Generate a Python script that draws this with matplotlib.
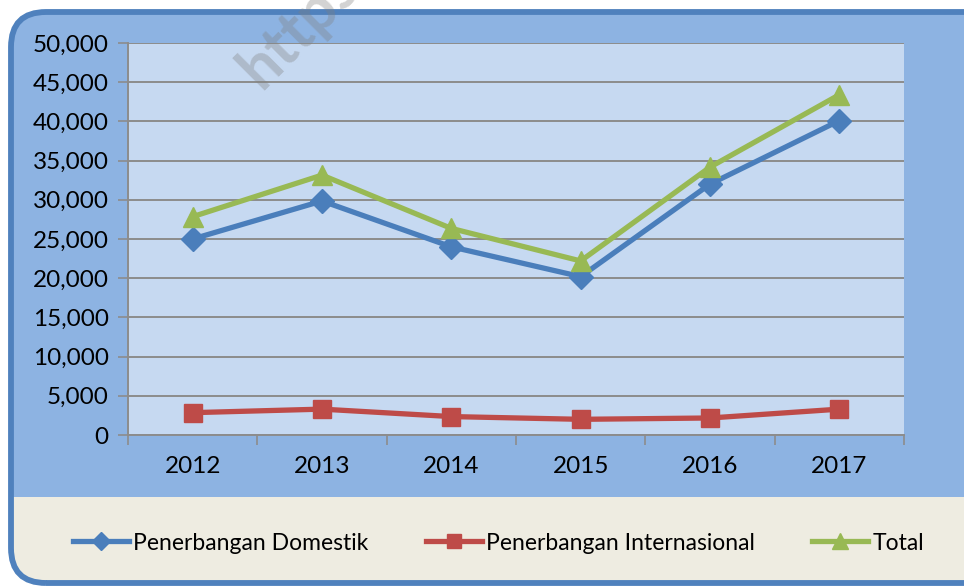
import matplotlib.pyplot as plt
from matplotlib.patches import FancyBboxPatch, Rectangle
from matplotlib.ticker import FuncFormatter, FixedLocator

years = ["2012", "2013", "2014", "2015", "2016", "2017"]
domestik = [25000, 29850, 24000, 20200, 32000, 40100]
internasional = [2850, 3300, 2350, 2000, 2170, 3300]
total = [27850, 33150, 26350, 22200, 34170, 43400]

names = ["Penerbangan Domestik", "Penerbangan Internasional", "Total"]
colors = ["#4A7EBB", "#BE4B48", "#98B954"]
markers = ["D", "s", "^"]
sizes = [12, 13, 15]

plt.rcParams['font.family'] = ['Lato', 'DejaVu Sans']

fig = plt.figure(figsize=(9.64, 5.87), dpi=100)
fig.patch.set_facecolor("white")

# rounded frame, coordinates in inches
tr = fig.dpi_scale_trans
frame = FancyBboxPatch((0.11, 0.04), 9.9, 5.71,
                       boxstyle="round,pad=0,rounding_size=0.35",
                       facecolor="#8DB3E2", edgecolor="none", transform=tr, zorder=0)
fig.patches.append(frame)
beige = Rectangle((0.0, 0.0), 10.0, 5.87 - 4.97, facecolor="#EEECE1",
                  edgecolor="none", transform=tr, zorder=0.5)
fig.patches.append(beige)
beige.set_clip_path(frame)
border = FancyBboxPatch((0.11, 0.04), 9.9, 5.71,
                        boxstyle="round,pad=0,rounding_size=0.35",
                        facecolor="none", edgecolor="#4F81BD", linewidth=4.2,
                        transform=tr, zorder=1)
fig.patches.append(border)

ax = fig.add_axes([128 / 964, 1 - 435 / 587, (904 - 128) / 964, (435 - 43) / 587])
ax.set_facecolor("#C6D9F1")
ax.set_zorder(2)

x = list(range(len(years)))
for vals, name, c, m, s in zip([domestik, internasional, total], names, colors, markers, sizes):
    ax.plot(x, vals, color=c, linewidth=3.8, marker=m, markersize=s,
            markeredgecolor=c, label=name, zorder=3)

ax.set_xlim(-0.5, 5.5)
ax.set_ylim(0, 50000)
ax.set_yticks(range(0, 50001, 5000))
ax.yaxis.set_major_formatter(FuncFormatter(lambda v, p: f"{int(v):,}"))
ax.grid(axis="y", color="#8C8C8C", linewidth=1.4)
ax.set_axisbelow(True)

ax.set_xticks(x)
ax.set_xticklabels(years)
ax.xaxis.set_minor_locator(FixedLocator([i - 0.5 for i in range(7)]))
ax.tick_params(axis="x", which="major", length=0, pad=15, labelsize=17.5)
ax.tick_params(axis="x", which="minor", length=7, color="#8C8C8C", width=1.2)
ax.tick_params(axis="y", length=7, color="#8C8C8C", width=1.2, pad=7, labelsize=17.5)

for side in ["top", "right"]:
    ax.spines[side].set_visible(False)
for side in ["left", "bottom"]:
    ax.spines[side].set_color("#8C8C8C")
    ax.spines[side].set_linewidth(1.4)

handles, labels = ax.get_legend_handles_labels()
leg = fig.legend(handles, labels, loc="center", bbox_to_anchor=(0.517, 1 - 543 / 587),
                 ncol=3, frameon=False, fontsize=16.5, handlelength=2.45,
                 handletextpad=0.18, columnspacing=2.5, markerscale=0.8)
leg.set_zorder(3)

fig.text(268 / 964, 1 - 98 / 587, "https://", rotation=45, fontsize=44,
         fontweight="bold", color="#808080", alpha=0.35, zorder=10,
         ha="left", va="bottom", rotation_mode="anchor")

fig.savefig("out.png", dpi=100)
